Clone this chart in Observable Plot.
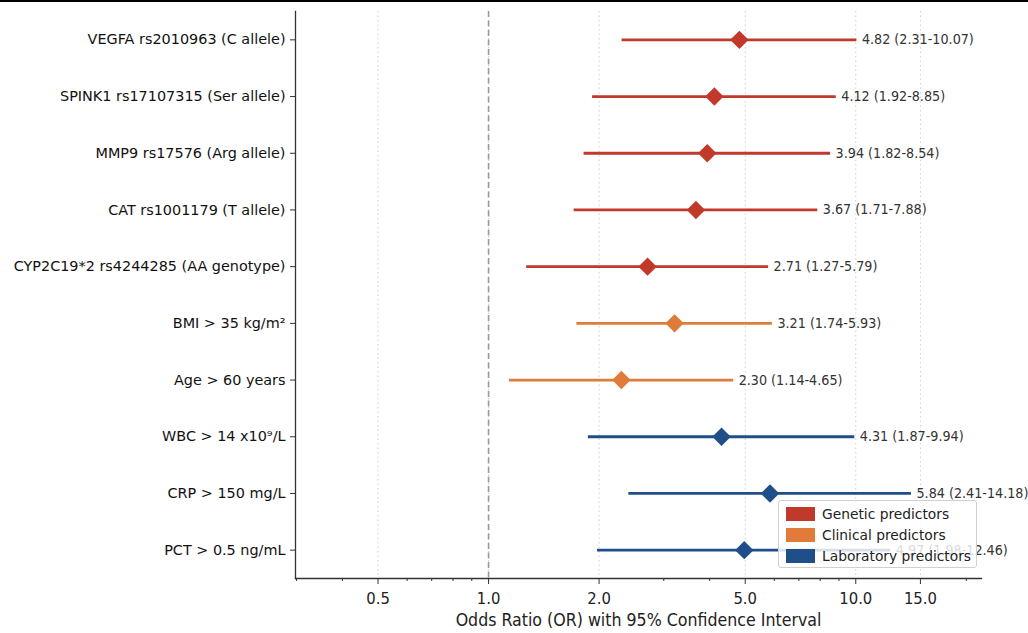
<!DOCTYPE html>
<html>
<head>
<meta charset="utf-8">
<script src="https://cdn.jsdelivr.net/npm/d3@7"></script>
<script src="https://cdn.jsdelivr.net/npm/@observablehq/plot@0.6"></script>
<style>
  html, body { margin: 0; padding: 0; background: #fff; }
  body { width: 1028px; height: 633px; position: relative; overflow: hidden; font-family: "DejaVu Sans", sans-serif; }
  #topline { position: absolute; left: 0; top: 0; width: 1028px; height: 2px; background: #000; }
  #legend { position: absolute; left: 778px; top: 500px; width: 199px; height: 68px; background: rgba(255,255,255,0.82); border: 1px solid #d0d0d0; border-radius: 3px; box-sizing: border-box; }
  .item { position: absolute; left: 7px; height: 16px; display: flex; align-items: center; font-size: 13.8px; color: #222; white-space: nowrap; }
  .sw { width: 29px; height: 14px; margin-right: 7px; }
</style>
</head>
<body>
<div id="chart"></div>
<div id="topline"></div>
<div id="legend"></div>
<script>
const predictors = [
  "VEGFA rs2010963 (C allele)",
  "SPINK1 rs17107315 (Ser allele)",
  "MMP9 rs17576 (Arg allele)",
  "CAT rs1001179 (T allele)",
  "CYP2C19*2 rs4244285 (AA genotype)",
  "BMI > 35 kg/m²",
  "Age > 60 years",
  "WBC > 14 x10⁹/L",
  "CRP > 150 mg/L",
  "PCT > 0.5 ng/mL"
];
const groups = ["Genetic","Genetic","Genetic","Genetic","Genetic","Clinical","Clinical","Laboratory","Laboratory","Laboratory"];
const oddsRatio = [4.82, 4.12, 3.94, 3.67, 2.71, 3.21, 2.30, 4.31, 5.84, 4.97];
const ciLow =     [2.31, 1.92, 1.82, 1.71, 1.27, 1.74, 1.14, 1.87, 2.41, 1.98];
const ciHigh =    [10.07, 8.85, 8.54, 7.88, 5.79, 5.93, 4.65, 9.94, 14.18, 12.46];
const groupNames = ["Genetic", "Clinical", "Laboratory"];
const legendLabels = ["Genetic predictors", "Clinical predictors", "Laboratory predictors"];
const groupColors = ["#c0392b", "#e07b39", "#1f4e89"];
const majorTicks = [0.5, 1, 2, 5, 10, 15];
const minorTicks = [0.3, 0.4, 0.6, 0.7, 0.8, 0.9, 3, 4, 6, 7, 8, 9, 20];
const xDomain = [0.298, 22];

const condensed = '"DejaVu Sans Condensed", "DejaVu Sans", sans-serif';
const data = predictors.map((name, i) => ({
  name, group: groups[i], or: oddsRatio[i], lo: ciLow[i], hi: ciHigh[i],
  label: `${oddsRatio[i].toFixed(2)} (${ciLow[i].toFixed(2)}-${ciHigh[i].toFixed(2)})`
}));
const colorOf = g => groupColors[groupNames.indexOf(g)];

const plot = Plot.plot({
  width: 1028,
  height: 633,
  marginLeft: 295,
  marginRight: 47,
  marginTop: 11,
  marginBottom: 55,
  style: { fontFamily: '"DejaVu Sans", sans-serif', background: "#fff" },
  x: { type: "log", domain: xDomain },
  y: { type: "point", domain: predictors, padding: 0.5, round: false },
  marks: [
    Plot.gridX(majorTicks, { stroke: "#cfcfcf", strokeOpacity: 1, strokeDasharray: "1.5,3", strokeWidth: 1 }),
    Plot.ruleX([1], { stroke: "#999", strokeWidth: 1.6, strokeDasharray: "6,3.5" }),
    Plot.ruleY(data, { y: "name", x1: "lo", x2: "hi", stroke: d => colorOf(d.group), strokeWidth: 2.8 }),
    Plot.dot(data, { x: "or", y: "name", symbol: "diamond2", r: 8.3, fill: d => colorOf(d.group), stroke: "none" }),
    Plot.text(data, { x: "hi", y: "name", text: "label", dx: 5, textAnchor: "start", fontSize: 14.2, fontFamily: condensed, fill: "#333" }),
    Plot.frame({ anchor: "left", stroke: "#333", strokeWidth: 1.3 }),
    Plot.frame({ anchor: "bottom", stroke: "#333", strokeWidth: 1.3 }),
    Plot.axisX(minorTicks, { tickSize: 3, text: null, stroke: "#333" }),
    Plot.axisX(majorTicks, { tickSize: 6, tickPadding: 8, text: d => d.toFixed(1), fontSize: 16.5, fontFamily: condensed, fill: "#222", stroke: "#333", label: null }),
    Plot.text(["Odds Ratio (OR) with 95% Confidence Interval"], { frameAnchor: "bottom", dy: 47, fontSize: 17.6, fontFamily: condensed, fill: "#222" }),
    Plot.axisY({ tickSize: 5, tickPadding: 5, fontSize: 14.4, fill: "#111", stroke: "#333", label: null })
  ]
});
document.getElementById("chart").appendChild(plot);

const legend = document.getElementById("legend");
legendLabels.forEach((lab, i) => {
  const it = document.createElement("div");
  it.className = "item";
  it.style.top = (5 + i * 21) + "px";
  it.innerHTML = `<span class="sw" style="background:${groupColors[i]}"></span><span>${lab}</span>`;
  legend.appendChild(it);
});
</script>
</body>
</html>
